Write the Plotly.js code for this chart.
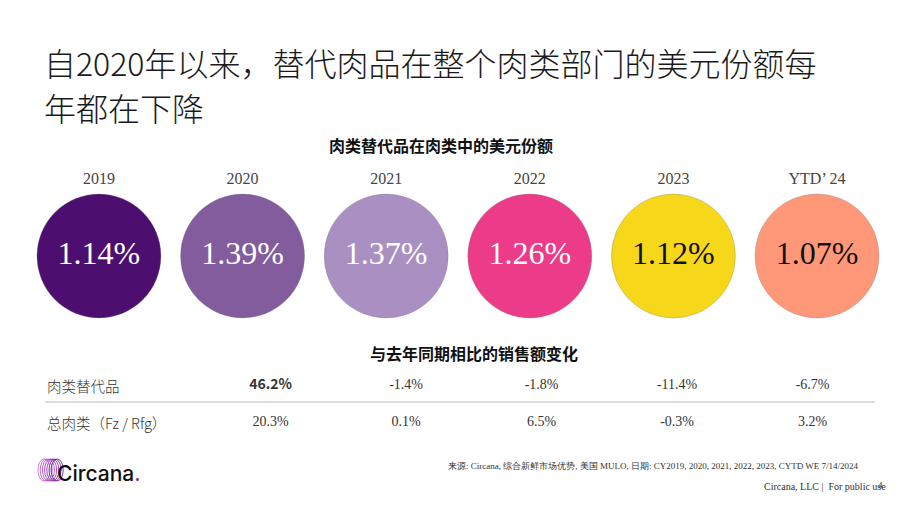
<!DOCTYPE html>
<html>
<head>
<meta charset="utf-8">
<script src="https://cdn.plot.ly/plotly-3.0.1.min.js"></script>
<style>html,body{margin:0;padding:0;background:#fff;}#chart{width:920px;height:518px;}</style>
</head>
<body>
<div id="chart"></div>
<script>
// ---- data ----
const years = ["2019", "2020", "2021", "2022", "2023", "YTD\u2019 24"];
const shareValues = [1.14, 1.39, 1.37, 1.26, 1.12, 1.07];
const circleColors = ["#4d0f6f", "#835c9d", "#aa90c2", "#ec3c89", "#f7d719", "#ff9878"];
const circleTextColors = ["#ffffff", "#ffffff", "#ffffff", "#ffffff", "#111111", "#111111"];

const yoyPeriods = ["2020", "2021", "2022", "2023", "YTD\u2019 24"];
const rowLabels = ["肉类替代品", "总肉类（Fz / Rfg）"];
const meatAltYoY = [46.2, -1.4, -1.8, -11.4, -6.7];
const totalMeatYoY = [20.3, 0.1, 6.5, -0.3, 3.2];

const mainTitleLines = ["自2020年以来，替代肉品在整个肉类部门的美元份额每", "年都在下降"];
const shareTitle = "肉类替代品在肉类中的美元份额";
const yoyTitle = "与去年同期相比的销售额变化";
const sourceText = "来源: Circana, 综合新鲜市场优势, 美国 MULO, 日期: CY2019, 2020, 2021, 2022, 2023, CYTD WE 7/14/2024";
const footerText = "Circana, LLC |  For public use";

// ---- helpers ----
const fmtPct = v => v.toFixed(1) + "%";
const fmtShare = v => v.toFixed(2) + "%";
const serif = "Liberation Serif, DejaVu Serif, serif";
const cjk = "Noto Sans CJK SC, Noto Sans, sans-serif";

const idx = years.map((_, i) => i);
const yIdx = yoyPeriods.map((_, i) => i);

const traces = [
  // circles with share values
  {
    type: "scatter", mode: "markers+text", x: idx, y: idx.map(() => 256),
    xaxis: "x", yaxis: "y",
    marker: { size: 124, color: circleColors, line: { width: 1, color: "rgba(120,120,120,0.3)" }, opacity: 1 },
    text: shareValues.map(fmtShare), textposition: "middle center",
    textfont: { family: serif, size: 32, color: circleTextColors },
    hoverinfo: "skip", cliponaxis: false
  },
  // year labels
  {
    type: "scatter", mode: "text", x: idx, y: idx.map(() => 180),
    xaxis: "x", yaxis: "y",
    text: years, textposition: "middle center",
    textfont: { family: serif, size: 16, color: "#444444" },
    hoverinfo: "skip", cliponaxis: false
  },
  // row 1: meat alternatives YoY
  {
    type: "scatter", mode: "text", x: yIdx, y: yIdx.map(() => 385),
    xaxis: "x2", yaxis: "y",
    text: meatAltYoY.map((v, i) => i === 0 ? "<b>" + fmtPct(v) + "</b>" : fmtPct(v)),
    textposition: "middle center",
    textfont: { family: meatAltYoY.map((v, i) => i === 0 ? cjk : serif), size: 14, color: "#333333" },
    hoverinfo: "skip", cliponaxis: false
  },
  // row 2: total meat YoY
  {
    type: "scatter", mode: "text", x: yIdx, y: yIdx.map(() => 422),
    xaxis: "x2", yaxis: "y",
    text: totalMeatYoY.map(fmtPct), textposition: "middle center",
    textfont: { family: serif, size: 14, color: "#333333" },
    hoverinfo: "skip", cliponaxis: false
  }
];

const hiddenAxis = { visible: false, showgrid: false, zeroline: false, fixedrange: true };

const layout = {
  width: 920, height: 518,
  margin: { l: 0, r: 0, t: 0, b: 0 },
  paper_bgcolor: "#ffffff", plot_bgcolor: "#ffffff",
  showlegend: false,
  xaxis: Object.assign({ range: [-0.689, 5.717], domain: [0, 1] }, hiddenAxis),
  xaxis2: Object.assign({ range: [-1.997, 4.793], domain: [0, 1], overlaying: "x" }, hiddenAxis),
  yaxis: Object.assign({ range: [518, 0], domain: [0, 1] }, hiddenAxis),
  shapes: [
    { type: "line", xref: "paper", yref: "y", x0: 45 / 920, x1: 875 / 920, y0: 402, y1: 402,
      line: { color: "#dcdcdc", width: 2 } }
  ],
  annotations: [
    { text: mainTitleLines[0], xref: "paper", yref: "y", x: 42 / 920, y: 62, xanchor: "left", yanchor: "middle",
      showarrow: false, font: { family: cjk, size: 32, color: "#1a1a1a", weight: 300 } },
    { text: mainTitleLines[1], xref: "paper", yref: "y", x: 42 / 920, y: 107, xanchor: "left", yanchor: "middle",
      showarrow: false, font: { family: cjk, size: 32, color: "#1a1a1a", weight: 300 } },
    { text: "<b>" + shareTitle + "</b>", xref: "paper", yref: "y", x: 441 / 920, y: 145, xanchor: "center", yanchor: "middle",
      showarrow: false, font: { family: cjk, size: 16, color: "#111111" } },
    { text: "<b>" + yoyTitle + "</b>", xref: "paper", yref: "y", x: 474 / 920, y: 353, xanchor: "center", yanchor: "middle",
      showarrow: false, font: { family: cjk, size: 16, color: "#111111" } },
    { text: rowLabels[0], xref: "paper", yref: "y", x: 45 / 920, y: 385, xanchor: "left", yanchor: "middle",
      showarrow: false, font: { family: cjk, size: 14.5, color: "#333333", weight: 300 } },
    { text: rowLabels[1], xref: "paper", yref: "y", x: 45 / 920, y: 422, xanchor: "left", yanchor: "middle",
      showarrow: false, font: { family: cjk, size: 14.5, color: "#333333", weight: 300 } },
    { text: sourceText, xref: "paper", yref: "y", x: 861 / 920, y: 466, xanchor: "right", yanchor: "middle",
      showarrow: false, font: { family: serif, size: 9, color: "#333333" } },
    { text: footerText, xref: "paper", yref: "y", x: 888 / 920, y: 486, xanchor: "right", yanchor: "middle",
      showarrow: false, font: { family: serif, size: 10, color: "#333333" } },
    { text: "4", xref: "paper", yref: "y", x: 880 / 920, y: 485, xanchor: "center", yanchor: "middle",
      showarrow: false, font: { family: serif, size: 9, color: "#333333" } },
    { text: "Circana<span style=\"color:#a020c0\">.</span>", xref: "paper", yref: "y", x: 55 / 920, y: 473, xanchor: "left", yanchor: "middle",
      showarrow: false, font: { family: "Inter, Lato, sans-serif", size: 21, color: "#111111", weight: 500 } }
  ]
};

// logo rings
const ringColors = ["#d070d0", "#c060c8", "#b050c0", "#a040b8", "#9030b0", "#8028a8", "#7020a0"];
for (let k = 0; k < 7; k++) {
  const cx = 44 + k * 2.2;
  layout.shapes.push({
    type: "circle", xref: "paper", yref: "y",
    x0: (cx - 6) / 920, x1: (cx + 6) / 920, y0: 459, y1: 481,
    line: { color: ringColors[k], width: 0.9 }
  });
}

Plotly.newPlot("chart", traces, layout, { displayModeBar: false, staticPlot: true });
</script>
</body>
</html>
